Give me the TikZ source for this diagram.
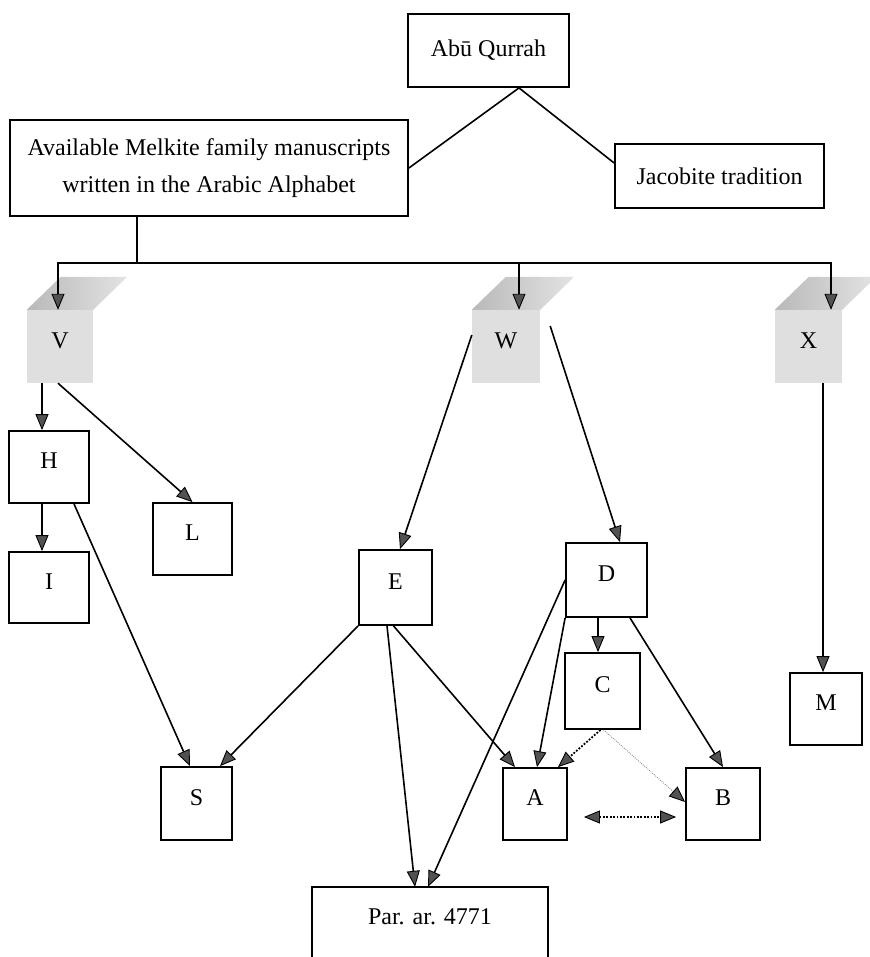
\documentclass[tikz,border=0pt]{standalone}
\usepackage{fontspec}
\setmainfont{Liberation Serif}
\usetikzlibrary{arrows.meta,calc}
\definecolor{tipfill}{gray}{0.32}
\begin{document}
\begin{tikzpicture}[x=1pt,y=-1pt,
  every node/.style={font=\fontsize{24}{36.5}\selectfont},
  >={Triangle[width=13pt,length=16pt,fill=tipfill,color=black,line width=0.9pt]},
  box/.style={draw, line width=1.8pt, inner sep=0pt},
  lbox/.style={box, text depth=12pt},
  con/.style={line width=1.6pt},
  arr/.style={con, ->},
  dotcon/.style={line width=1.8pt, dash pattern=on 1.8pt off 1.6pt},
  finedot/.style={line width=0.8pt, gray, dash pattern=on 0.9pt off 1.2pt},
  front/.style={fill=gray!25, inner sep=0pt, minimum height=73pt, text depth=12pt}
]
\useasboundingbox (0,0) rectangle (869,957);

% top boxes
\node[box, minimum width=161pt, minimum height=73pt] (AQ) at (488.5,50.5) {Abū Qurrah};
\node[box, minimum width=398pt, minimum height=96pt, align=center] (Mel) at (209,168) {Available Melkite family manuscripts\\written in the Arabic Alphabet};
\node[box, minimum width=209pt, minimum height=64pt] (Jac) at (719.5,176) {Jacobite tradition};

% shaded family nodes
\node[front, minimum width=66pt] (V) at (60,346.5) {V};
\node[front, minimum width=68pt] (W) at (506,346.5) {W};
\node[front, minimum width=67pt] (X) at (808.5,346.5) {X};
\foreach \n in {V,W,X}{
  \shade[left color=gray!55, right color=gray!22] (\n.north west) -- (\n.north east) -- ++(34,-33) -- ($(\n.north west)+(34,-33)$) -- cycle;
}

% manuscript boxes
\node[lbox, minimum width=80pt, minimum height=72pt] (H) at (49,467) {H};
\node[lbox, minimum width=80pt, minimum height=71pt] (I) at (49,587.5) {I};
\node[lbox, minimum width=79pt, minimum height=72pt] (L) at (192.5,539) {L};
\node[lbox, minimum width=73pt, minimum height=75pt] (E) at (395.5,587.5) {E};
\node[lbox, minimum width=81pt, minimum height=74pt] (D) at (606.5,580) {D};
\node[lbox, minimum width=75pt, minimum height=76pt] (C) at (602.5,691) {C};
\node[lbox, minimum width=72pt, minimum height=72pt] (M) at (826,709) {M};
\node[lbox, minimum width=71pt, minimum height=73pt] (S) at (196.5,803.5) {S};
\node[lbox, minimum width=64pt, minimum height=72pt] (A) at (535,804) {A};
\node[lbox, minimum width=74pt, minimum height=72pt] (B) at (723,804) {B};
\node[inner sep=0pt, minimum width=236pt, minimum height=60pt] (Par) at (430,917) {Par. ar. 4771};
\draw[line width=1.8pt] ([yshift=-30pt]Par.south west) -- (Par.north west) -- (Par.north east) -- ([yshift=-30pt]Par.south east);

% top connectors
\draw[con] ([xshift=30.5pt]AQ.south) -- (Mel.east);
\draw[con] ([xshift=30.5pt]AQ.south) -- ([yshift=13pt]Jac.west);
\coordinate (bus) at (137,263);
\draw[con] ([xshift=-72pt]Mel.south) -- (bus);
\draw[arr] (bus) -| ([xshift=-2pt]V.north);
\draw[arr] (bus) -| ([xshift=22.5pt]X.north);
\coordinate (wd) at ([xshift=13pt]W.north);
\draw[arr] (bus -| wd) -- (wd);

% V branch
\coordinate (vh) at ([xshift=-18pt]V.south);
\draw[arr] (vh) -- (vh |- H.north);
\draw[arr] ([xshift=-2pt]V.south) -- (L.north);
\coordinate (hi) at ([xshift=-7pt]H.south);
\draw[arr] (hi) -- (hi |- I.north);
\draw[arr] ([xshift=25pt]H.south) -- ([xshift=-6.5pt]S.north);

% W branch
\draw[arr] ([yshift=11.5pt]W.west) -- ([xshift=4.5pt]E.north);
\draw[arr] ([xshift=10pt,yshift=20.5pt]W.east) -- ([xshift=13.5pt]D.north);

% X branch
\coordinate (xm) at ([xshift=14.5pt]X.south);
\draw[arr] (xm) -- (xm |- M.north);

% E
\draw[arr] (E.south west) -- ([xshift=23.5pt]S.north);
\draw[arr] ([xshift=-8.5pt]E.south) -- ([xshift=-15pt]Par.north);
\draw[arr] ([xshift=-2pt]E.south) -- ([xshift=-20pt]A.north);

% D
\draw[arr] (D.west) -- ([xshift=-2pt]Par.north);
\draw[arr] (D.south west) -- ([xshift=2pt]A.north);
\coordinate (dc) at ([xshift=-8.5pt]D.south);
\draw[arr] (dc) -- (dc |- C.north);
\draw[arr] ([xshift=23.5pt]D.south) -- (B.north);

% C and A-B
\draw[dotcon, ->] ([xshift=-2pt]C.south) -- ([xshift=23pt]A.north);
\draw[finedot, ->] ([xshift=1pt]C.south) -- ([yshift=2pt]B.west);
\draw[dotcon, <->] ([xshift=16pt,yshift=-13pt]A.east) -- ([xshift=-9pt,yshift=-13pt]B.west);
\end{tikzpicture}
\end{document}
